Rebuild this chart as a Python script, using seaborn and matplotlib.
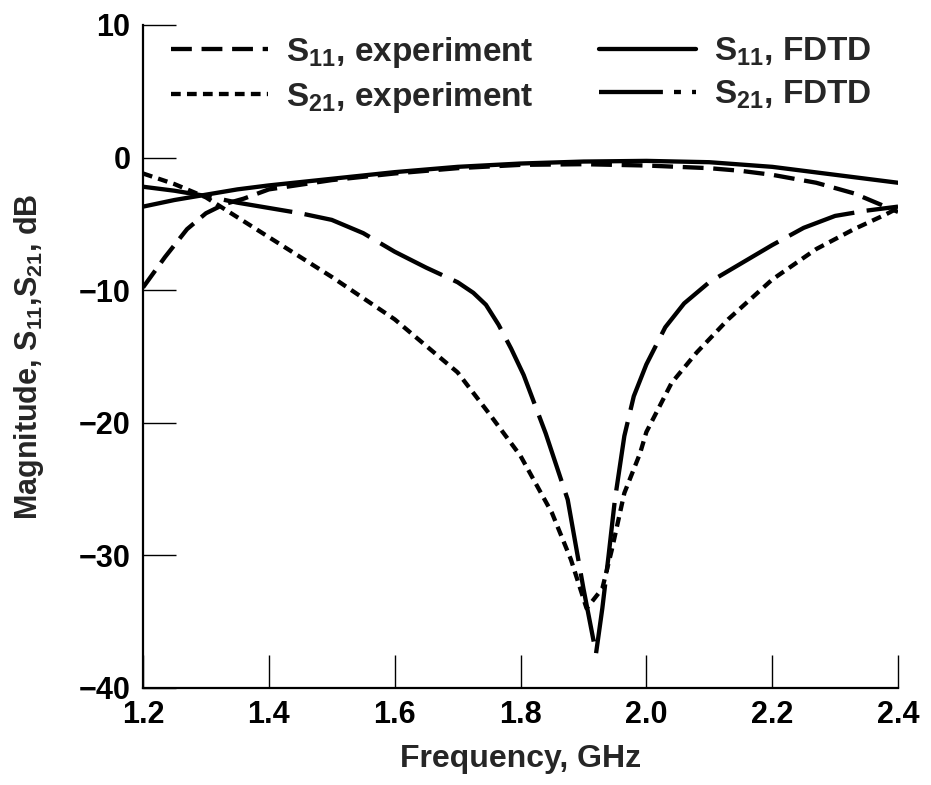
import matplotlib
matplotlib.use("Agg")
import matplotlib.pyplot as plt
from matplotlib.lines import Line2D
import seaborn as sns
import numpy as np

# ---- data ----
s11_fdtd_f = [1.20, 1.25, 1.30, 1.35, 1.40, 1.50, 1.60, 1.70, 1.80, 1.90, 2.00, 2.10, 2.20, 2.30, 2.40]
s11_fdtd_db = [-3.7, -3.2, -2.8, -2.4, -2.1, -1.6, -1.1, -0.7, -0.45, -0.3, -0.25, -0.35, -0.7, -1.3, -1.9]

s11_exp_f = [1.20, 1.235, 1.27, 1.30, 1.33, 1.36, 1.40, 1.50, 1.60, 1.70, 1.80, 1.90, 2.00, 2.10, 2.15, 2.20, 2.27, 2.33, 2.40]
s11_exp_db = [-9.8, -7.5, -5.4, -4.2, -3.5, -3.1, -2.4, -1.7, -1.2, -0.8, -0.55, -0.5, -0.6, -0.8, -1.0, -1.3, -1.9, -2.7, -4.1]

s21_exp_f = [1.20, 1.25, 1.30, 1.35, 1.40, 1.50, 1.60, 1.70, 1.75, 1.80, 1.85, 1.88, 1.905, 1.93, 1.945, 1.965, 1.99, 2.00, 2.04, 2.08, 2.13, 2.20, 2.27, 2.33, 2.38, 2.40]
s21_exp_db = [-1.2, -2.0, -3.0, -4.5, -6.0, -9.0, -12.2, -16.2, -19.3, -22.5, -26.8, -30.3, -34.0, -32.5, -29.6, -25.3, -22.3, -20.7, -17.0, -14.7, -12.2, -9.2, -6.9, -5.4, -4.3, -3.8]

s21_fdtd_f = [1.20, 1.25, 1.30, 1.35, 1.40, 1.45, 1.50, 1.55, 1.60, 1.65, 1.70, 1.725, 1.745, 1.765, 1.785, 1.805, 1.84, 1.875, 1.90, 1.92, 1.93, 1.94, 1.95, 1.965, 1.98, 2.00, 2.03, 2.06, 2.10, 2.15, 2.20, 2.25, 2.30, 2.35, 2.40]
s21_fdtd_db = [-2.2, -2.5, -2.9, -3.4, -3.8, -4.2, -4.7, -5.7, -7.1, -8.3, -9.4, -10.2, -11.1, -12.6, -14.4, -16.4, -20.8, -25.8, -32.5, -37.4, -34.0, -30.0, -25.8, -21.0, -18.0, -15.6, -12.8, -11.0, -9.4, -8.0, -6.6, -5.3, -4.4, -4.0, -3.7]

x_ticks = [1.2, 1.4, 1.6, 1.8, 2.0, 2.2, 2.4]
x_tick_labels = ["1.2", "1.4", "1.6", "1.8", "2.0", "2.2", "2.4"]
y_ticks = [-40, -30, -20, -10, 0, 10]
y_tick_labels = ["\u221240", "\u221230", "\u221220", "\u221210", "0", "10"]

labels = [r"S$_{11}$, experiment", r"S$_{21}$, experiment", r"S$_{11}$, FDTD", r"S$_{21}$, FDTD"]

# ---- style ----
sns.set_theme(style="ticks")
plt.rcParams["font.family"] = ["Liberation Sans", "DejaVu Sans"]
plt.rcParams["font.weight"] = "bold"
plt.rcParams["mathtext.fontset"] = "custom"
plt.rcParams["mathtext.rm"] = "Liberation Sans:bold"
plt.rcParams["mathtext.it"] = "Liberation Sans:bold"
plt.rcParams["mathtext.bf"] = "Liberation Sans:bold"
plt.rcParams["mathtext.default"] = "rm"
plt.rcParams["lines.scale_dashes"] = False

fig = plt.figure(figsize=(9.31, 7.85), dpi=100)
ax = fig.add_axes([0.1536, 0.1236, 0.9646 - 0.1536, 0.9682 - 0.1236])

lw = 3.1
ls_s11_exp = (0, (15, 7))
ls_s21_exp = (0, (7, 4.5))
ls_s11_fdtd = "-"
ls_s21_fdtd = (0, (50, 9))
ls_s21_fdtd_leg = (0, (46, 8, 5, 8))

sns.lineplot(x=s11_exp_f, y=s11_exp_db, ax=ax, color="black", lw=lw, linestyle=ls_s11_exp)
sns.lineplot(x=s21_exp_f, y=s21_exp_db, ax=ax, color="black", lw=lw, linestyle=ls_s21_exp)
sns.lineplot(x=s11_fdtd_f, y=s11_fdtd_db, ax=ax, color="black", lw=lw, linestyle=ls_s11_fdtd)
sns.lineplot(x=s21_fdtd_f, y=s21_fdtd_db, ax=ax, color="black", lw=lw, linestyle=ls_s21_fdtd)

ax.set_xlim(1.2, 2.4)
ax.set_ylim(-40, 10)
ax.set_xticks(x_ticks)
ax.set_xticklabels(x_tick_labels)
ax.set_yticks(y_ticks)
ax.set_yticklabels(y_tick_labels)
ax.tick_params(direction="in", length=24, width=1.0, labelsize=22, pad=9, colors="black")
for s in ["top", "right"]:
    ax.spines[s].set_visible(False)
for s in ["left", "bottom"]:
    ax.spines[s].set_linewidth(1.6)
    ax.spines[s].set_color("black")

ax.set_xlabel("Frequency, GHz", fontsize=23, fontweight="bold", labelpad=10)
ax.set_ylabel(r"Magnitude, S$_{11}$,S$_{21}$, dB", fontsize=22, fontweight="bold")
ax.yaxis.set_label_coords(-0.128, 0.5)

handles = [
    Line2D([], [], color="black", lw=lw, linestyle=ls_s11_exp),
    Line2D([], [], color="black", lw=lw, linestyle=ls_s21_exp),
    Line2D([], [], color="black", lw=lw, linestyle=ls_s11_fdtd),
    Line2D([], [], color="black", lw=lw, linestyle=ls_s21_fdtd_leg),
]
leg = ax.legend(handles, labels, ncol=2, loc="upper left", bbox_to_anchor=(0.02, 1.005),
                frameon=False, fontsize=24, handlelength=2.9, handletextpad=0.55,
                columnspacing=1.95, labelspacing=0.3, borderaxespad=0.0)

fig.savefig("out.png", dpi=100, facecolor="white")
